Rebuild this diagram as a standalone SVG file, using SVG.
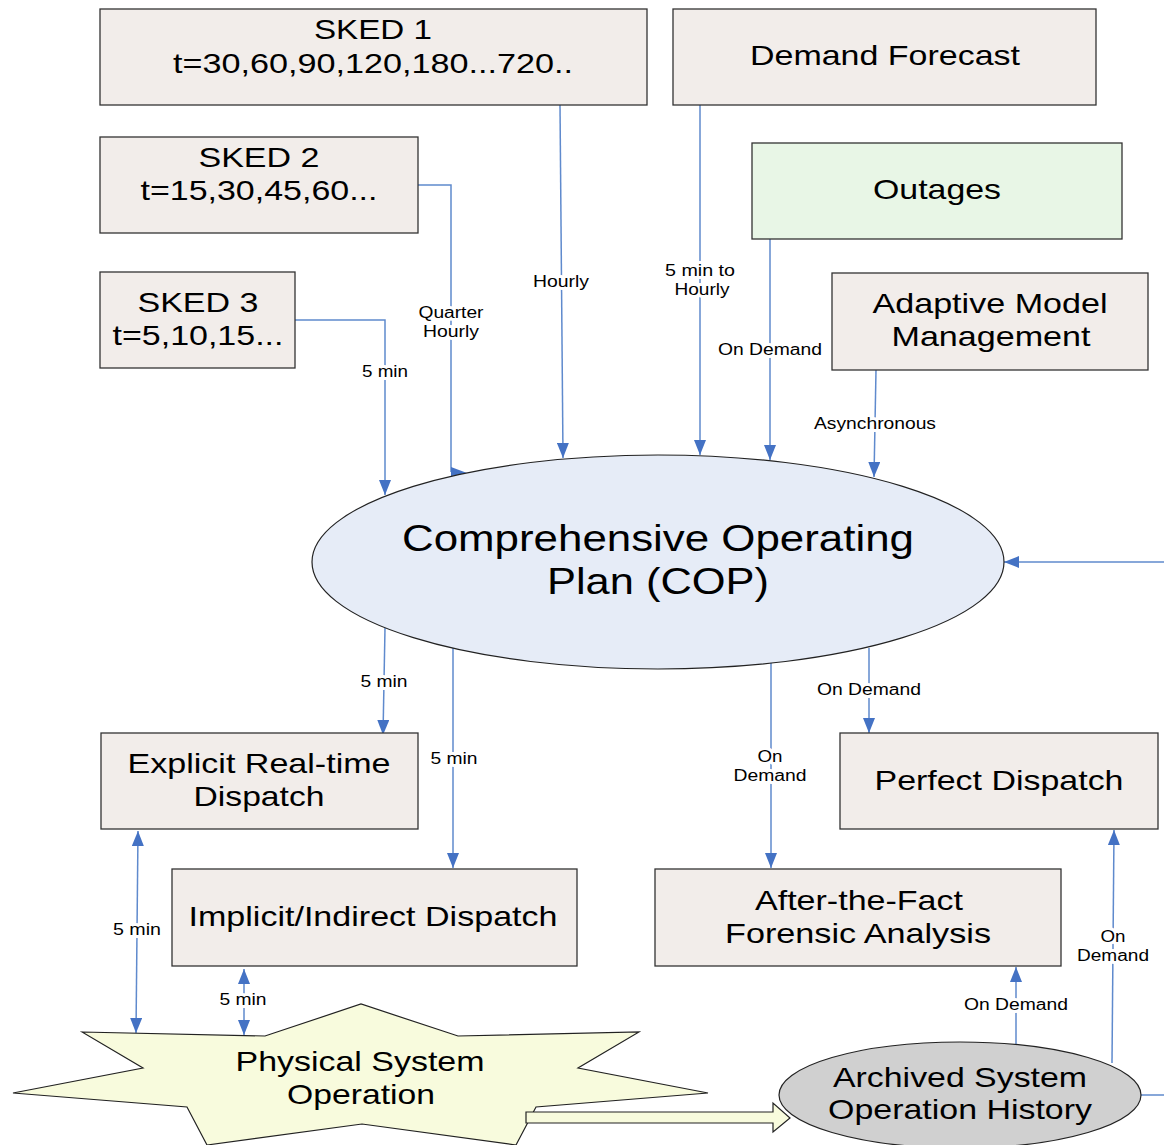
<svg xmlns="http://www.w3.org/2000/svg" width="1164" height="1145" viewBox="0 0 1164 1145">
<defs>
<marker id="ah" markerUnits="userSpaceOnUse" markerWidth="15" markerHeight="12" refX="15" refY="6" orient="auto-start-reverse">
<path d="M0,0 L15,6 L0,12 z" fill="#4472c4"/>
</marker>
</defs>
<style>
.box{fill:#f2edea;stroke:#333;stroke-width:1.3}
.t{font-family:"Liberation Sans",Arial,sans-serif;font-size:28px;fill:#000;text-anchor:middle}
.big{font-size:36px}
.lbl{font-family:"Liberation Sans",Arial,sans-serif;font-size:16px;fill:#000;text-anchor:middle;stroke:#fff;stroke-width:6px;paint-order:stroke;stroke-linejoin:round}
.c{fill:none;stroke:#5f8acd;stroke-width:1.5}
</style>
<rect width="1164" height="1145" fill="#fff"/>

<g id="connectors">
<path class="c" d="M560,105 L563,458" marker-end="url(#ah)"/>
<path class="c" d="M418,185 H451 V472"/>
<polygon points="451,467 451,478 467,473" fill="#4472c4"/>
<path class="c" d="M295,320 H385 V495" marker-end="url(#ah)"/>
<path class="c" d="M700,105 V455" marker-end="url(#ah)"/>
<path class="c" d="M770,239 V460" marker-end="url(#ah)"/>
<path class="c" d="M876,370 L874,477" marker-end="url(#ah)"/>
<path class="c" d="M1164,562 H1004" marker-end="url(#ah)"/>
<path class="c" d="M385,628 L383,735" marker-end="url(#ah)"/>
<path class="c" d="M453,648 V868" marker-end="url(#ah)"/>
<path class="c" d="M771,663 V868" marker-end="url(#ah)"/>
<path class="c" d="M869,648 V733" marker-end="url(#ah)"/>
<path class="c" d="M136,1033 L138,831" marker-start="url(#ah)" marker-end="url(#ah)"/>
<path class="c" d="M244,1035 V969" marker-start="url(#ah)" marker-end="url(#ah)"/>
<path class="c" d="M1016,1044 V967" marker-end="url(#ah)"/>
<path class="c" d="M1112,1063 L1114,830" marker-end="url(#ah)"/>
<path class="c" d="M1140,1095 H1164"/>

<text class="lbl" x="561" y="287" textLength="56" lengthAdjust="spacingAndGlyphs">Hourly</text>
<text class="lbl" x="451" y="318" textLength="65" lengthAdjust="spacingAndGlyphs">Quarter</text>
<text class="lbl" x="451" y="337" textLength="56" lengthAdjust="spacingAndGlyphs">Hourly</text>
<text class="lbl" x="385" y="377" textLength="46" lengthAdjust="spacingAndGlyphs">5 min</text>
<text class="lbl" x="700" y="276" textLength="70" lengthAdjust="spacingAndGlyphs">5 min to</text>
<text class="lbl" x="702" y="295" textLength="55" lengthAdjust="spacingAndGlyphs">Hourly</text>
<text class="lbl" x="770" y="355" textLength="104" lengthAdjust="spacingAndGlyphs">On Demand</text>
<text class="lbl" x="875" y="429" textLength="122" lengthAdjust="spacingAndGlyphs">Asynchronous</text>
<text class="lbl" x="384" y="687" textLength="47" lengthAdjust="spacingAndGlyphs">5 min</text>
<text class="lbl" x="454" y="764" textLength="47" lengthAdjust="spacingAndGlyphs">5 min</text>
<text class="lbl" x="770" y="762" textLength="25" lengthAdjust="spacingAndGlyphs">On</text>
<text class="lbl" x="770" y="781" textLength="73" lengthAdjust="spacingAndGlyphs">Demand</text>
<text class="lbl" x="869" y="695" textLength="104" lengthAdjust="spacingAndGlyphs">On Demand</text>
<text class="lbl" x="137" y="935" textLength="48" lengthAdjust="spacingAndGlyphs">5 min</text>
<text class="lbl" x="243" y="1005" textLength="47" lengthAdjust="spacingAndGlyphs">5 min</text>
<text class="lbl" x="1016" y="1010" textLength="104" lengthAdjust="spacingAndGlyphs">On Demand</text>
<text class="lbl" x="1113" y="942" textLength="25" lengthAdjust="spacingAndGlyphs">On</text>
<text class="lbl" x="1113" y="961" textLength="72" lengthAdjust="spacingAndGlyphs">Demand</text>
</g>

<g id="sked1">
<rect class="box" x="100" y="9" width="547" height="96"/>
<text class="t" x="373" y="39" textLength="118" lengthAdjust="spacingAndGlyphs">SKED 1</text>
<text class="t" x="373" y="73" textLength="400" lengthAdjust="spacingAndGlyphs">t=30,60,90,120,180...720..</text>
</g>
<g id="sked2">
<rect class="box" x="100" y="137" width="318" height="96"/>
<text class="t" x="259" y="167" textLength="121" lengthAdjust="spacingAndGlyphs">SKED 2</text>
<text class="t" x="259" y="200" textLength="237" lengthAdjust="spacingAndGlyphs">t=15,30,45,60...</text>
</g>
<g id="sked3">
<rect class="box" x="100" y="272" width="195" height="96"/>
<text class="t" x="198" y="312" textLength="121" lengthAdjust="spacingAndGlyphs">SKED 3</text>
<text class="t" x="198" y="345" textLength="171" lengthAdjust="spacingAndGlyphs">t=5,10,15...</text>
</g>
<g id="demand">
<rect class="box" x="673" y="9" width="423" height="96"/>
<text class="t" x="885" y="65" textLength="270" lengthAdjust="spacingAndGlyphs">Demand Forecast</text>
</g>
<g id="outages">
<rect class="box" x="752" y="143" width="370" height="96" style="fill:#e8f6e6"/>
<text class="t" x="937" y="199" textLength="128" lengthAdjust="spacingAndGlyphs">Outages</text>
</g>
<g id="adaptive">
<rect class="box" x="832" y="273" width="316" height="97"/>
<text class="t" x="990" y="313" textLength="235" lengthAdjust="spacingAndGlyphs">Adaptive Model</text>
<text class="t" x="991" y="346" textLength="199" lengthAdjust="spacingAndGlyphs">Management</text>
</g>
<g id="cop">
<ellipse cx="658" cy="562" rx="346" ry="107" fill="#e6ecf7" stroke="#222" stroke-width="1.2"/>
<text class="t big" x="658" y="551" textLength="512" lengthAdjust="spacingAndGlyphs">Comprehensive Operating</text>
<text class="t big" x="658" y="594" textLength="222" lengthAdjust="spacingAndGlyphs">Plan (COP)</text>
</g>
<g id="explicit">
<rect class="box" x="101" y="733" width="317" height="96"/>
<text class="t" x="259" y="773" textLength="263" lengthAdjust="spacingAndGlyphs">Explicit Real-time</text>
<text class="t" x="259" y="806" textLength="131" lengthAdjust="spacingAndGlyphs">Dispatch</text>
</g>
<g id="implicit">
<rect class="box" x="172" y="869" width="405" height="97"/>
<text class="t" x="373" y="926" textLength="369" lengthAdjust="spacingAndGlyphs">Implicit/Indirect Dispatch</text>
</g>
<g id="perfect">
<rect class="box" x="840" y="733" width="318" height="96"/>
<text class="t" x="999" y="790" textLength="249" lengthAdjust="spacingAndGlyphs">Perfect Dispatch</text>
</g>
<g id="forensic">
<rect class="box" x="655" y="869" width="406" height="97"/>
<text class="t" x="859" y="910" textLength="208" lengthAdjust="spacingAndGlyphs">After-the-Fact</text>
<text class="t" x="858" y="943" textLength="266" lengthAdjust="spacingAndGlyphs">Forensic Analysis</text>
</g>
<g id="physical">
<polygon points="82,1032 265,1036 361,1004 458,1036 639,1032 578,1068 708,1093 536,1107 516,1145 362,1124 207,1145 187,1107 13,1093 143,1068" fill="#f8fbdd" stroke="#222" stroke-width="1.2"/>
<text class="t" x="360" y="1071" textLength="249" lengthAdjust="spacingAndGlyphs">Physical System</text>
<text class="t" x="361" y="1104" textLength="148" lengthAdjust="spacingAndGlyphs">Operation</text>
</g>
<g id="flow">
<polygon points="526,1112 773,1112 773,1103 790,1118 773,1132 773,1123 526,1123" fill="#f8fbdd" stroke="#222" stroke-width="1.2"/>
</g>
<g id="archived">
<ellipse cx="960" cy="1095" rx="181" ry="53" fill="#d0d0d0" stroke="#222" stroke-width="1.2"/>
<text class="t" x="960" y="1087" textLength="254" lengthAdjust="spacingAndGlyphs">Archived System</text>
<text class="t" x="960" y="1119" textLength="264" lengthAdjust="spacingAndGlyphs">Operation History</text>
</g>
</svg>
